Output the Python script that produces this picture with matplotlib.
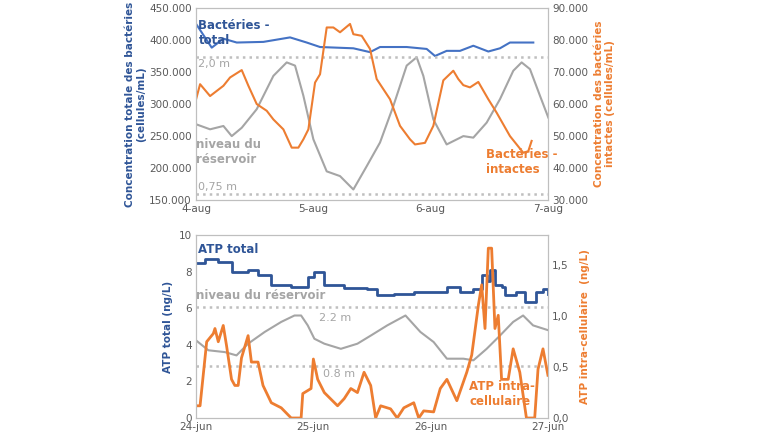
import matplotlib
matplotlib.use("Agg")
import matplotlib.pyplot as plt
from matplotlib.ticker import FuncFormatter

# ---- top panel data (x in days from 4-aug) ----
top_xticks = ["4-aug", "5-aug", "6-aug", "7-aug"]
tot_zx = [48,95,130,170,250,330,380,420,470,520,570,600,680,740,765,800,840,880,925,960,990,1060]
tot_val = [425,388,402,396,397,404,396,389,388,387,381,389,389,386,375,383,383,391,382,387,396,396]
int_zx = [48,60,90,130,150,185,205,230,260,280,310,335,355,370,385,405,420,440,460,480,510,520,545,570,590,630,660,690,705,735,760,790,820,835,850,870,895,925,950,990,1030,1045,1055]
int_val = [61.5,66.2,62.5,65.7,68.3,70.6,65.7,60,57.9,55.2,52.1,46.4,46.4,49,52.1,66.7,69.3,83.9,83.9,82.4,85,81.8,81.3,77.2,67.8,61.5,53.2,49,47.4,47.9,53.2,67.4,70.4,67.8,65.9,65.2,66.9,61.5,57.3,50,44.8,45.3,48.5]
lvl_zx = [48,90,130,155,185,230,280,320,345,370,400,440,480,520,560,600,640,680,710,730,760,800,850,880,920,960,1000,1025,1050,1080,1105]
lvl_val = [268.5,260.6,265.8,250,263,292,344,365,360,313,245,195,187.6,166.7,203,240,297,360,373,344,276,237,250,247.6,271,307.6,352,365,354.5,313,279]

# ---- bottom panel data (x in days from 24-jun) ----
bot_xticks = ["24-jun", "25-jun", "26-jun", "27-jun"]
atp_zx = [43,70,110,150,200,230,270,330,360,380,400,430,490,560,590,640,700,760,800,840,880,905,920,930,945,965,975,1010,1035,1060,1070,1090,1105]
atp_val = [8.45,8.7,8.5,8.0,8.1,7.8,7.25,7.15,7.15,7.7,7.95,7.25,7.1,7.05,6.7,6.8,6.9,6.9,7.15,6.9,7.05,7.8,7.5,8.1,7.25,7.15,6.7,6.9,6.35,6.35,6.9,7.05,6.8]
intra_zx = [43,55,75,95,100,110,125,135,150,160,170,180,200,210,230,245,270,300,330,360,365,390,397,410,430,470,490,510,530,550,570,585,600,630,650,670,700,715,730,760,780,800,830,860,875,895,905,915,925,935,945,955,965,985,1000,1020,1040,1065,1075,1090,1105]
intra_val = [0.12,0.12,0.75,0.83,0.88,0.75,0.91,0.71,0.38,0.32,0.32,0.59,0.81,0.55,0.55,0.32,0.15,0.1,0,0,0.24,0.29,0.58,0.38,0.25,0.12,0.19,0.29,0.25,0.45,0.32,0,0.12,0.09,0,0.1,0.15,0,0.07,0.06,0.29,0.38,0.17,0.45,0.62,1.11,1.31,0.88,1.67,1.67,0.88,1.01,0.38,0.38,0.68,0.45,0,0,0.48,0.68,0.42]
blvl_zx = [43,80,130,165,200,250,300,340,360,380,400,430,480,530,570,620,675,720,760,800,850,880,920,960,1000,1030,1060,1105]
blvl_val = [4.24,3.7,3.6,3.42,4.06,4.7,5.25,5.6,5.6,5.06,4.33,4.06,3.78,4.06,4.5,5.06,5.6,4.7,4.15,3.24,3.24,3.15,3.78,4.5,5.25,5.6,5.06,4.8]

BLUE = "#4472C4"; DBLUE = "#2F5597"; ORANGE = "#ED7D31"; GRAY = "#A5A5A5"; TXT = "#595959"
tx = lambda zx: [(v - 48) / 352 for v in zx]
bx = lambda zx: [(v - 43) / 354 for v in zx]
thou = FuncFormatter(lambda v, p: f"{int(v):,}".replace(",", ".") if v else "0")
comma1 = FuncFormatter(lambda v, p: f"{v:.1f}".replace(".", ","))

fig = plt.figure(figsize=(7.6, 4.4), dpi=100)

def style(ax):
    for s in ax.spines.values():
        s.set_color("#BFBFBF")
    ax.tick_params(colors=TXT, labelsize=7.5, length=0, pad=3)

# top
ax1 = fig.add_axes([0.258, 0.545, 0.463, 0.437])
ax1.plot(tx(lvl_zx), [v * 1000 for v in lvl_val], color=GRAY, lw=1.5)
ax1.plot(tx(tot_zx), [v * 1000 for v in tot_val], color=BLUE, lw=1.5)
ax1.axhline(374000, color="#BFBFBF", ls=":", lw=1.8)
ax1.axhline(160000, color="#BFBFBF", ls=":", lw=1.8)
ax1.set_xlim(0, 3); ax1.set_ylim(150000, 450000)
ax1.set_yticks(range(150000, 450001, 50000)); ax1.yaxis.set_major_formatter(thou)
ax1.set_xticks([0, 1, 2, 3]); ax1.set_xticklabels(top_xticks)
ax1.set_ylabel("Concentration totale des bactéries\n(cellules/mL)", color=DBLUE, fontweight="bold", fontsize=7.5, labelpad=2)
style(ax1)
ax1r = ax1.twinx()
ax1r.plot(tx(int_zx), [v * 1000 for v in int_val], color=ORANGE, lw=1.5)
ax1r.set_ylim(30000, 90000); ax1r.set_yticks(range(30000, 90001, 10000))
ax1r.yaxis.set_major_formatter(thou)
ax1r.set_ylabel("Concentration des bactéries\nintactes (cellules/mL)", color=ORANGE, fontweight="bold", fontsize=7.5, labelpad=4)
style(ax1r)
ax1.text(0.02, 433000, "Bactéries -\ntotal", color=DBLUE, fontweight="bold", fontsize=8.5, va="top")
ax1.text(0.02, 362000, "2,0 m", color=GRAY, fontsize=8, va="center")
ax1.text(0.0, 225000, "niveau du\nréservoir", color=GRAY, fontweight="bold", fontsize=8.5, va="center")
ax1.text(0.02, 170000, "0,75 m", color=GRAY, fontsize=8, va="center")
ax1.text(2.47, 209000, "Bactéries -\nintactes", color=ORANGE, fontweight="bold", fontsize=8.5, va="center")

# bottom
ax2 = fig.add_axes([0.258, 0.05, 0.463, 0.416])
ax2.plot(bx(blvl_zx), blvl_val, color=GRAY, lw=1.5)
ax2.plot(bx(atp_zx), atp_val, color=DBLUE, lw=2, drawstyle="steps-post")
ax2.axhline(6.05, color="#BFBFBF", ls=":", lw=1.8)
ax2.axhline(2.85, color="#BFBFBF", ls=":", lw=1.8)
ax2.set_xlim(0, 3); ax2.set_ylim(0, 10); ax2.set_yticks(range(0, 11, 2))
ax2.set_xticks([0, 1, 2, 3]); ax2.set_xticklabels(bot_xticks)
ax2.set_ylabel("ATP total (ng/L)", color=DBLUE, fontweight="bold", fontsize=7.5)
style(ax2)
ax2r = ax2.twinx()
ax2r.plot(bx(intra_zx), intra_val, color=ORANGE, lw=2)
ax2r.set_ylim(0, 1.8); ax2r.set_yticks([0, 0.5, 1.0, 1.5])
ax2r.yaxis.set_major_formatter(comma1)
ax2r.set_ylabel("ATP intra-cellulaire  (ng/L)", color=ORANGE, fontweight="bold", fontsize=7.5, labelpad=8)
style(ax2r)
ax2.text(0.02, 9.2, "ATP total", color=DBLUE, fontweight="bold", fontsize=8.5, va="center")
ax2.text(0.0, 6.7, "niveau du réservoir", color=GRAY, fontweight="bold", fontsize=8.5, va="center")
ax2.text(1.05, 5.45, "2.2 m", color=GRAY, fontsize=8, va="center")
ax2.text(1.08, 2.4, "0.8 m", color=GRAY, fontsize=8, va="center")
ax2.text(2.33, 1.3, "ATP intra-\ncellulaire", color=ORANGE, fontweight="bold", fontsize=8.5, va="center")

fig.savefig("out.png", dpi=100)
